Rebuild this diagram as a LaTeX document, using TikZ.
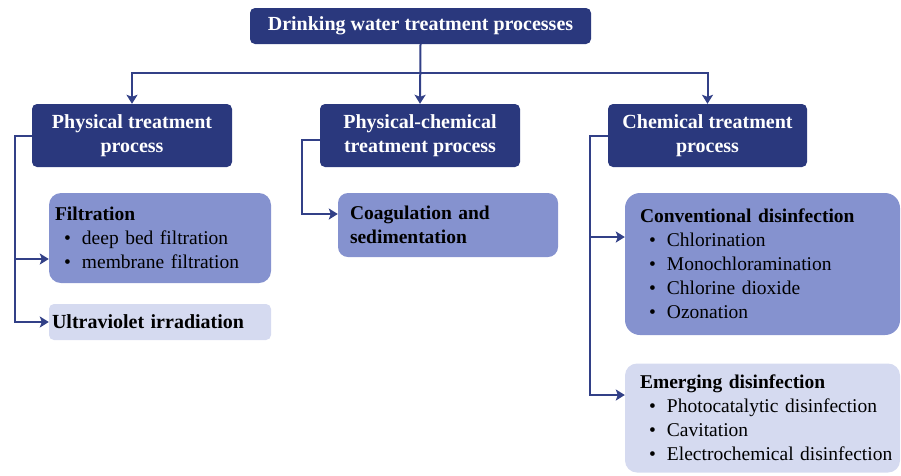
\documentclass[tikz,border=0pt]{standalone}
\usepackage{fontspec}
\setmainfont{Liberation Serif}
\usepackage{tikz}
\usetikzlibrary{arrows.meta,positioning}
\usepackage{xcolor}
\definecolor{navy}{RGB}{42,56,125}
\definecolor{midblue}{RGB}{133,146,207}
\definecolor{paleblue}{RGB}{213,218,240}
\definecolor{linkblue}{RGB}{50,64,135}
\newcommand{\bitem}[1]{\hspace*{9pt}\makebox[18pt][l]{\textbullet}\mbox{#1}}

\begin{document}
\begin{tikzpicture}[x=1pt,y=-1pt,>=Stealth,
  txt/.style={font=\fontsize{19.5}{24}\selectfont},
  headbox/.style={fill=navy,text=white,font=\fontsize{20}{24}\selectfont\bfseries,
    rounded corners=5pt,align=center,inner sep=0pt},
  subbox/.style={txt,fill=midblue,align=left,inner xsep=0pt,inner ysep=0pt},
  palebox/.style={txt,fill=paleblue,align=left,inner xsep=0pt,inner ysep=0pt},
  link/.style={draw=linkblue,line width=2pt},
  arr/.style={link,->,arrows={-Stealth[length=9pt,width=11pt,inset=2pt]}}]
\useasboundingbox (0,0) rectangle (901,475);

% top level
\node[headbox,minimum width=341pt,minimum height=36pt] (top) at (420.5,26) {Drinking water treatment processes};
\node[headbox,minimum width=200pt,minimum height=63pt] (phys) at (132,135.5) {Physical treatment\\process};
\node[headbox,minimum width=200pt,minimum height=63pt] (physchem) at (420,135.5) {Physical-chemical\\treatment process};
\node[headbox,minimum width=199pt,minimum height=63pt] (chem) at (707.5,135.5) {Chemical treatment\\process};

% second level
\node[subbox,rounded corners=12pt,minimum width=222pt,minimum height=90pt,text width=210pt] (filt) at (160,238)
  {\textbf{Filtration}\\\bitem{deep bed filtration}\\\bitem{membrane filtration}};
\node[palebox,rounded corners=5pt,minimum width=222pt,minimum height=36pt,text width=216pt] (uv) at (160,322)
  {\textbf{\fontsize{20}{24}\selectfont Ultraviolet irradiation}};
\node[subbox,rounded corners=10pt,minimum width=220pt,minimum height=64pt,text width=196pt] (coag) at (448,225)
  {\textbf{Coagulation and}\\\textbf{sedimentation}};
\node[subbox,rounded corners=15pt,minimum width=275pt,minimum height=142pt,text width=245pt] (conv) at (762.5,264)
  {\textbf{Conventional disinfection}\\\bitem{Chlorination}\\\bitem{Monochloramination}\\\bitem{Chlorine dioxide}\\\bitem{Ozonation}};
\node[palebox,rounded corners=12pt,minimum width=275pt,minimum height=109pt,text width=245pt] (emerg) at (762.5,418)
  {\textbf{Emerging disinfection}\\\bitem{Photocatalytic disinfection}\\\bitem{Cavitation}\\\bitem{Electrochemical disinfection}};

% connectors
\coordinate (bus) at (420,73);
\coordinate (trunkP) at (15,322);
\coordinate (trunkM) at (302,214);
\coordinate (trunkC) at (590,395);

\draw[arr] (top.south) -- (physchem.north);
\draw[arr] (bus) -| (phys.north);
\draw[arr] (bus) -| (chem.north);

\draw[arr] (phys.west) -| (trunkP) -- (uv.west);
\draw[arr] (trunkP |- 0,259) -- (filt.west |- 0,259);

\draw[arr] ([yshift=-4pt]physchem.west) -| (trunkM) -- (coag.west |- trunkM);

\draw[arr] (chem.west) -| (trunkC) -- (emerg.west |- trunkC);
\draw[arr] (trunkC |- 0,237) -- (conv.west |- 0,237);
\end{tikzpicture}
\end{document}
